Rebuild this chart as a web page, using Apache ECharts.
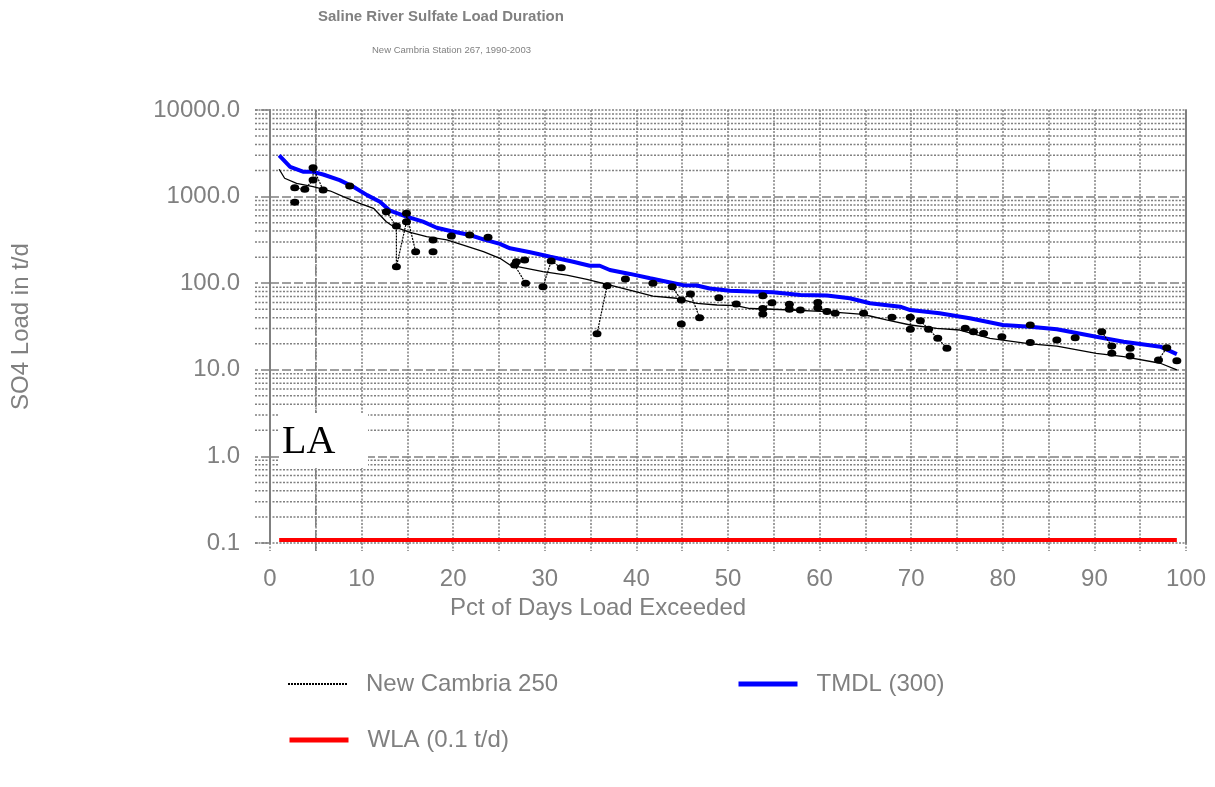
<!DOCTYPE html>
<html><head><meta charset="utf-8">
<script src="https://cdn.jsdelivr.net/npm/echarts@6/dist/echarts.min.js"></script>
<style>html,body{margin:0;padding:0;background:#fff}#c{width:1215px;height:787px}</style>
</head><body><div id="c"></div>
<script>
// ---- data ----
const xTicks = [0, 10, 20, 30, 40, 50, 60, 70, 80, 90, 100];

const ncX = [1, 1.6, 2.9, 4.7, 6.6, 8, 9.8, 11.3, 12.7, 13.5, 15.3, 17.1, 19.3, 21.1, 23.3, 25.1, 26.2, 29.8, 32.4, 34.6, 36.8, 39.7, 41.8, 44.4, 46.6, 48.8, 50.9, 52.4, 54.9, 60.8, 64.4, 65.5, 67.3, 69.9, 72.8, 75.3, 78.6, 83, 85.9, 90.2, 93.2, 97.2, 99];
const ncY = [2070, 1630, 1425, 1300, 1160, 1000, 837, 733, 513, 449, 387, 345, 316, 276, 231, 194, 162, 136, 124, 111, 97, 81, 71, 67, 58.6, 56, 55, 51, 50, 47, 44, 41.8, 37.6, 32.9, 30.1, 28.8, 23.1, 19.9, 18.8, 15.5, 14.2, 11.9, 10];

const tmdlX = [1, 2.2, 3.6, 4.7, 5.8, 7.6, 9.1, 10.6, 12, 13.1, 14.9, 16.7, 18.2, 19.7, 21.8, 23.3, 25.1, 26.2, 28.4, 30.6, 33.1, 34.9, 36, 37.1, 39.3, 41.5, 43.7, 45.1, 46.6, 48, 50.2, 52.4, 54.9, 57.9, 60.8, 63.3, 65.5, 68.8, 69.9, 73.1, 76.4, 80, 83, 85.9, 90.2, 93.2, 97.2, 99];
const tmdlY = [3000, 2210, 1940, 1930, 1800, 1550, 1300, 1040, 873, 687, 586, 513, 437, 401, 360, 321, 284, 253, 228, 202, 177, 159, 159, 142, 128, 114, 102, 95, 94, 87, 82, 80, 78.5, 73, 72, 67, 58.6, 53.6, 49, 44.9, 39.3, 32.9, 31.5, 29.4, 24.1, 21.1, 18.5, 15.2];

const wlaX = [1, 99];
const wlaY = [0.108, 0.108];

// observed samples; points sharing a group id are joined by a thin line
const sampleX = [2.7, 2.7, 3.8, 4.7, 4.7, 5.8, 8.7, 12.7, 13.8, 13.8, 14.9, 14.9, 15.9, 17.8, 17.8, 19.8, 21.8, 23.8, 27.8, 26.9, 26.7, 27.9, 29.8, 30.7, 31.8, 35.7, 36.8, 38.8, 41.8, 43.9, 44.9, 45.9, 46.9, 44.9, 49, 50.9, 53.8, 53.8, 53.8, 54.8, 56.7, 56.7, 57.9, 59.8, 59.8, 60.8, 61.7, 64.8, 67.9, 69.9, 69.9, 71, 71.9, 72.9, 73.9, 75.9, 76.8, 77.9, 79.9, 83, 83, 85.9, 87.9, 90.8, 91.9, 91.9, 93.9, 93.9, 97, 97.9, 99];
const sampleY = [860, 1268, 1213, 1557, 2160, 1190, 1325, 670, 457, 155, 513, 641, 231, 316, 231, 351, 360, 339, 185, 177, 162, 100, 91, 180, 151, 26, 93.5, 112, 100, 91, 64, 75, 40, 33.8, 68, 57.5, 71.8, 44, 51, 59.6, 57, 50, 49, 60, 52, 47, 45, 45, 40.4, 40.4, 29.4, 36.9, 29.4, 23.1, 17.7, 30.1, 27.5, 26.3, 24.1, 32.9, 20.6, 22.1, 23.5, 27.5, 18.8, 15.5, 17.7, 14.4, 13, 18, 12.7];
const sampleGroup = [0, 1, 1, 1, 1, 1, 2, 3, 3, 3, 3, 3, 3, 4, 5, 6, 7, 8, 9, 9, 9, 9, 10, 10, 10, 11, 11, 12, 13, 14, 14, 14, 14, 15, 16, 17, 18, 19, 19, 19, 20, 20, 20, 21, 21, 21, 21, 22, 23, 24, 24, 25, 25, 25, 25, 26, 26, 26, 27, 28, 29, 30, 31, 32, 32, 32, 33, 34, 35, 35, 36];

// grid helper values (log minor lines)
const decades = [0.1, 1, 10, 100, 1000];
const minorMult = [2, 3, 4, 5, 6, 7, 8, 9];
const edgeVals = [0.1, 10000];

// ---- chart ----
const GRAY = '#808080';
const FONT = '"Liberation Sans", Arial, Helvetica, sans-serif';
const DOT = [2, 1.5];
const DASH = [9, 3];
function pairs(xs, ys) { return xs.map((x, i) => [x, ys[i]]); }

const minorVals = [];
decades.forEach(d => minorMult.forEach(m => minorVals.push(+(d * m).toPrecision(3))));

function hLines(vals, dash) {
  return {
    type: 'custom', silent: true, z: 1, clip: false,
    data: vals.map(v => [0, v]),
    renderItem: function (params, api) {
      const cs = params.coordSys;
      const y = api.coord([0, api.value(1)])[1];
      return { type: 'line', shape: { x1: cs.x - 15, y1: y, x2: cs.x + cs.width, y2: y },
        style: { stroke: GRAY, lineWidth: 1.5, lineDash: dash } };
    }
  };
}
const vDash = {
  type: 'custom', silent: true, z: 1, clip: false,
  data: [[5, 0.1]],
  renderItem: function (params, api) {
    const cs = params.coordSys;
    const x = api.coord([api.value(0), 0.1])[0];
    return { type: 'line', shape: { x1: x, y1: cs.y, x2: x, y2: cs.y + cs.height + 8 },
      style: { stroke: GRAY, lineWidth: 1.5, lineDash: DASH } };
  }
};

const groups = {};
sampleX.forEach((x, i) => {
  const g = sampleGroup[i];
  (groups[g] = groups[g] || []).push([x, sampleY[i]]);
});
const sampleSeries = Object.keys(groups).map(g => ({
  type: 'line', name: 'obs' + g, data: groups[g], z: 6,
  symbol: 'circle', symbolSize: [9, 7], showSymbol: true,
  itemStyle: { color: '#000' }, lineStyle: { color: '#000', width: 1.2, type: [2, 1] },
  silent: true, legendHoverLink: false
}));

const legendText = { color: GRAY, fontSize: 24, fontFamily: FONT, padding: [0, 0, 0, 14] };
function legendAt(name, left, top, lineStyle) {
  return { data: [name], left: left, top: top, itemWidth: 59, itemHeight: 14, padding: 0,
    selectedMode: false, textStyle: legendText,
    itemStyle: { opacity: 0, borderWidth: 0 }, lineStyle: lineStyle };
}

const option = {
  animation: false,
  backgroundColor: '#fff',
  title: [
    { text: 'Saline River Sulfate Load Duration', left: 318, top: 9, padding: 0,
      textStyle: { color: GRAY, fontSize: 15, fontWeight: 'bold', fontFamily: FONT } },
    { text: 'New Cambria Station 267, 1990-2003', left: 372, top: 45, padding: 0,
      textStyle: { color: GRAY, fontSize: 9.5, fontWeight: 'normal', fontFamily: FONT } }
  ],
  legend: [
    legendAt('New Cambria 250', 287, 672, { width: 2, type: [2, 1], color: '#000' }),
    legendAt('TMDL (300)', 736, 672, { width: 5, color: '#0000ff' }),
    legendAt('WLA (0.1 t/d)', 287, 728, { width: 5, color: '#ff0000' })
  ],
  grid: { left: 270, right: 29, top: 110, bottom: 244, containLabel: false },
  xAxis: {
    type: 'value', min: xTicks[0], max: xTicks[xTicks.length - 1], interval: 10,
    axisLine: { show: false },
    axisTick: { show: true, length: 8, lineStyle: { color: GRAY, width: 1.5, type: DOT } },
    minorTick: { show: true, splitNumber: 2, length: 8, lineStyle: { color: GRAY, width: 1.5, type: DOT } },
    splitLine: { show: true, lineStyle: { color: GRAY, width: 1.5, type: DOT } },
    minorSplitLine: { show: true, lineStyle: { color: GRAY, width: 1.5, type: DOT } },
    axisLabel: { color: GRAY, fontSize: 24, fontFamily: FONT, margin: 24 },
    name: 'Pct of Days Load Exceeded', nameLocation: 'middle', nameGap: 52,
    nameTextStyle: { color: GRAY, fontSize: 24, fontFamily: FONT, padding: [0, 260, 0, 0] }
  },
  yAxis: [{
    type: 'log', logBase: 10, min: 0.1, max: 10000,
    axisLine: { show: true, lineStyle: { color: GRAY, width: 2 } },
    axisTick: { show: true, length: 15, lineStyle: { color: GRAY, width: 1.5, type: DASH } },
    splitLine: { show: true, showMinLine: false, showMaxLine: false, lineStyle: { color: GRAY, width: 1.5, type: DASH } },
    axisLabel: { color: GRAY, fontSize: 24, fontFamily: FONT, margin: 30, formatter: v => Number(v).toFixed(1) },
    name: 'SO4 Load in t/d', nameLocation: 'middle', nameGap: 237,
    nameTextStyle: { color: GRAY, fontSize: 24, fontFamily: FONT }
  }, {
    type: 'log', logBase: 10, min: 0.1, max: 10000, position: 'right',
    axisLine: { show: true, lineStyle: { color: GRAY, width: 2 } },
    axisTick: { show: false }, axisLabel: { show: false }, splitLine: { show: false }
  }],
  graphic: [
    { type: 'rect', z: 100, zlevel: 0, shape: { x: 279, y: 413, width: 89, height: 55 }, style: { fill: '#ffffff' } },
    { type: 'text', z: 101, zlevel: 0, x: 282, y: 422, style: { text: 'LA', font: '40px "Liberation Serif", "Times New Roman", serif', fill: '#000' } }
  ],
  series: [
    hLines(minorVals, DOT),
    hLines(edgeVals, DOT),
    vDash,
    { type: 'line', name: 'WLA (0.1 t/d)', data: pairs(wlaX, wlaY), z: 3, symbol: 'none',
      itemStyle: { color: '#ff0000' }, lineStyle: { color: '#ff0000', width: 4 } },
    { type: 'line', name: 'New Cambria 250', data: pairs(ncX, ncY), z: 4, symbol: 'none',
      itemStyle: { color: '#000' }, lineStyle: { color: '#000', width: 1.3 } },
    { type: 'line', name: 'TMDL (300)', data: pairs(tmdlX, tmdlY), z: 5, symbol: 'none',
      itemStyle: { color: '#0000ff' }, lineStyle: { color: '#0000ff', width: 4 } }
  ].concat(sampleSeries)
};

const chart = echarts.init(document.getElementById('c'));
chart.setOption(option);
</script></body></html>
